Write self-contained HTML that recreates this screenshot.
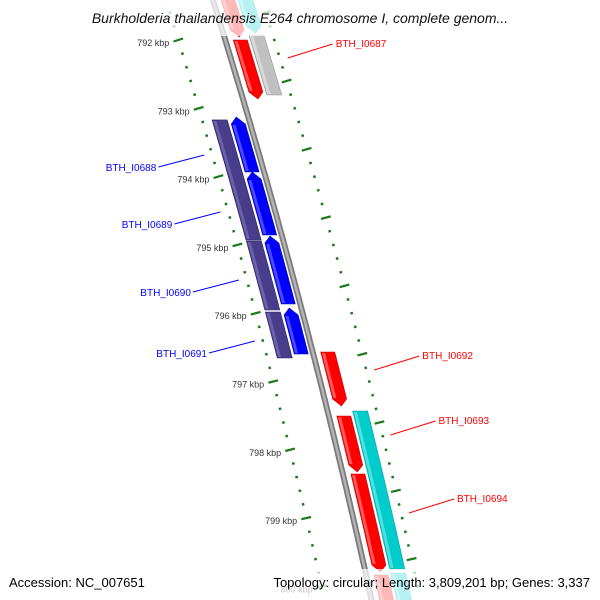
<!DOCTYPE html>
<html><head><meta charset="utf-8"><style>
html,body{margin:0;padding:0;background:#fff;overflow:hidden;width:600px;height:600px;}
svg{display:block;font-family:"Liberation Sans",sans-serif;overflow:hidden;}
</style></head><body>
<svg id="map" width="600" height="600" viewBox="0 0 600 600" xmlns="http://www.w3.org/2000/svg">
<g id="ticks"></g>
<g id="backbone"></g>
<g id="feats"></g>
<g id="labels"></g>
<rect x="0" y="0" width="600" height="36" fill="#fff" opacity="0.72"/>
<text x="300" y="23" text-anchor="middle" font-size="14" font-style="italic" fill="#111">Burkholderia thailandensis E264 chromosome I, complete genom...</text>
<rect x="0" y="569" width="600" height="31" fill="#fff" opacity="0.72"/>
<text x="9" y="587" font-size="13" fill="#000">Accession: NC_007651</text>
<text x="590" y="587" font-size="13" fill="#000" text-anchor="end">Topology: circular; Length: 3,809,201 bp; Genes: 3,337</text>
</svg>
<script>
// data
const featNames = ["red-top","cyan-top","BTH_I0687-red","BTH_I0687","BTH_I0688","b1","b2","b3","b4","BTH_I0689","BTH_I0690","BTH_I0691","BTH_I0692","BTH_I0693","BTH_I0694","red-bottom","cyan-main","cyan-bottom"];
const featStart = [791122,791120,792000,791927,793171,793127,793933,794870,795924,793171,794943,795982,796568,797505,798354,799833,797432,799804];
const featEnd   = [791956,791898,792864,792805,794928,793933,794855,795865,796597,794928,795953,796656,797359,798325,799789,800600,799745,800600];
const featKind  = ["fwd","cog","fwd","gray","slate","rev","rev","rev","rev","slate","slate","slate","fwd","fwd","fwd","fwd","cog","cog"];
const featArrow = [1,1,1,0,0,1,1,1,1,0,0,0,1,1,1,1,0,0];
const tickStartKbp = 791, tickEndKbp = 801;
const labelTexts = ["BTH_I0687","BTH_I0688","BTH_I0689","BTH_I0690","BTH_I0691","BTH_I0692","BTH_I0693","BTH_I0694"];
const labelBp = [792264,793684,794518,795514,796407,796832,797783,798925];

// geometry
const NS="http://www.w3.org/2000/svg";
const yOf = bp => 40 + (bp-792000)*0.0683;
const xb = y => 213 + 0.3103*y - 0.0000766*y*y;
const slope = y => 0.3103 - 2*0.0000766*y;
const slots = {fwd:[8,22],gray:[25,40],cog:[25,40],rev:[-19,-5],slate:[-37,-22]};
const colors = {fwd:["#ff0000","#ff5a5a","#c80000"],gray:["#c0c0c0","#d8d8d8","#9a9a9a"],cog:["#00cccc","#50e0e0","#00a0a0"],rev:["#0000ff","#4a4aff","#0000b0"],slate:["#483d8b","#6a62a8","#2f2868"]};
function mk(tag,attrs,parent){const e=document.createElementNS(NS,tag);for(const k in attrs)e.setAttribute(k,attrs[k]);parent.appendChild(e);return e;}

// backbone
const bbG=document.getElementById('backbone');
let bpts=[];for(let y=-10;y<=605;y+=5)bpts.push((xb(y)).toFixed(1)+","+y);
const bb1=mk('polyline',{points:bpts.join(' '),fill:'none',stroke:'#7a7a7a','stroke-width':6},bbG);


const bb2=mk('polyline',{points:bpts.join(' '),fill:'none',stroke:'#b4b4b4','stroke-width':2.5},bbG);



// features
const fG=document.getElementById('feats');
function strip(y1,y2,a,b){const L=[],R=[];for(let y=y1;y<=y2;y+=3){L.push([xb(y)+a,y]);R.push([xb(y)+b,y]);}L.push([xb(y2)+a,y2]);R.push([xb(y2)+b,y2]);return [L,R];}
featNames.forEach((nm,i)=>{
  const k=featKind[i],[a,b]=slots[k],c=colors[k];
  let y1=yOf(featStart[i]),y2=yOf(featEnd[i]);
  const arr=featArrow[i], up=(k==="rev");
  let by1=y1,by2=y2;
  if(arr){ if(up) by1=y1+7; else by2=y2-7; }
  const [L,R]=strip(by1,by2,a,b);
  let pts=[...L];
  if(arr&&!up) pts.push([xb(y2)+(a+b)/2,y2]);
  pts=pts.concat(R.slice().reverse());
  if(arr&&up) pts.push([xb(y1)+(a+b)/2,y1]);
  const g=mk('g',{},fG);
  
  
  mk('polygon',{points:pts.map(p=>p[0].toFixed(1)+","+p[1].toFixed(1)).join(' '),fill:c[0],stroke:c[2],'stroke-width':0.6},g);
  const [L2,R2]=strip(by1+1,by2-1,a+1,a+4);
  mk('polygon',{points:L2.concat(R2.reverse()).map(p=>p[0].toFixed(1)+","+p[1].toFixed(1)).join(' '),fill:c[1]},g);
});

// ticks
const tG=document.getElementById('ticks');
function tick(y,dx,len,major,col){
  const s=slope(y),n=Math.hypot(1,s),nx=1/n,ny=-s/n,x=xb(y)+dx;
  return mk('line',{x1:(x-nx*len).toFixed(1),y1:(y-ny*len).toFixed(1),x2:(x+nx*len).toFixed(1),y2:(y+ny*len).toFixed(1),stroke:col,'stroke-width':major?2.2:2.4},tG);
}
for(let h=tickStartKbp*5;h<=tickEndKbp*5;h++){
  const bp=h*200,major=(h%5===0);
  const y=yOf(bp);
  if(y>600) continue;
  const t1=tick(y,-47,major?5:1.3,major,'#1a7a1a');
  
  
  const y2=y+41;
  if(y2<600){
    const t2=tick(y2,49,major?5:1.3,major,'#1a7a1a');
    
    
  }
  if(major&&y>20&&y<600){
    const tx=mk('text',{x:(xb(y)-47-9).toFixed(1),y:(y+6).toFixed(1),'font-size':9,fill:'#333','text-anchor':'end'},tG);
    tx.textContent=(bp/1000)+" kbp";
    
    
  }
}

// labels
const lG=document.getElementById('labels');
labelTexts.forEach((t,i)=>{
  const y=yOf(labelBp[i]);
  const fi=featNames.indexOf(t);
  const k=featKind[fi];
  const rev=(k==="slate"||k==="rev");
  const col=rev?'#0000ff':'#ff0000';
  let x0,x1,y1,tx;
  if(rev){x0=xb(y)-55;x1=x0-46;y1=y+12;tx=x1-2;}
  else{x0=xb(y)+57;x1=x0+45;y1=y-14;tx=x1+3;}
  const ln=mk('line',{x1:x0.toFixed(1),y1:y.toFixed(1),x2:x1.toFixed(1),y2:y1.toFixed(1),stroke:col,'stroke-width':1},lG);
  
  
  const te=mk('text',{x:tx.toFixed(1),y:(y1+(rev?4:3)).toFixed(1),'font-size':10,fill:col,'text-anchor':rev?'end':'start'},lG);
  te.textContent=t;
  
  
});
</script>
</body></html>
